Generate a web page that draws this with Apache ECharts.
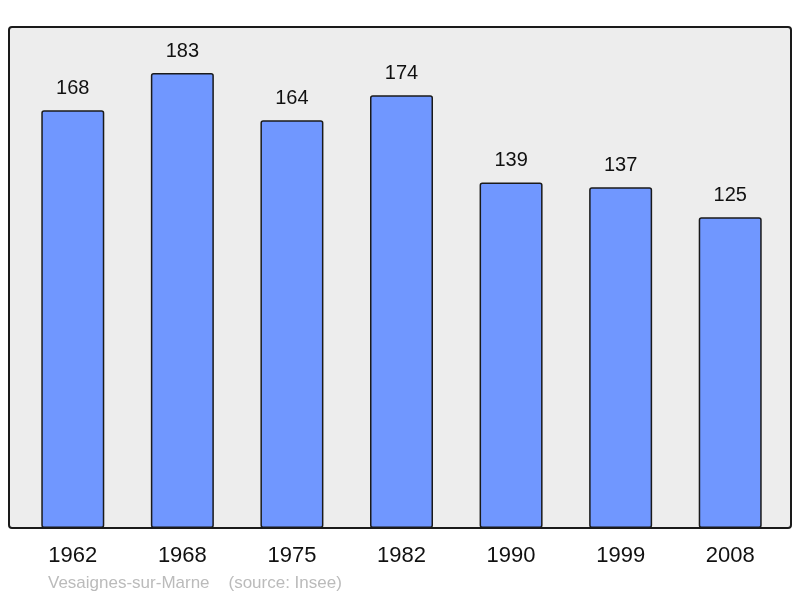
<!DOCTYPE html>
<html>
<head>
<meta charset="utf-8">
<script src="https://cdn.jsdelivr.net/npm/echarts@6/dist/echarts.min.js"></script>
<style>
  html, body { margin: 0; padding: 0; background: #fff; }
  #chart { width: 800px; height: 598px; }
</style>
</head>
<body>
<div id="chart"></div>
<script>
// data
var years = ['1962', '1968', '1975', '1982', '1990', '1999', '2008']
var population = [168, 183, 164, 174, 139, 137, 125]

var myChart = echarts.init(document.getElementById('chart'))
var font = '"Liberation Sans", Arial, sans-serif'

var option = {
  backgroundColor: '#ffffff',
  animation: false,
  graphic: [
    {
      type: 'rect',
      z: -10,
      shape: { x: 9, y: 27, width: 782, height: 501, r: 3 },
      style: { fill: '#ededed', stroke: '#1a1a1a', lineWidth: 2 }
    },
    {
      type: 'text',
      left: 48,
      top: 575,
      style: {
        text: 'Vesaignes-sur-Marne    (source: Insee)',
        fill: '#bbbbbb',
        font: '17px ' + font
      }
    }
  ],
  grid: { left: 18, right: 15, top: 27, bottom: 70 },
  xAxis: {
    type: 'category',
    data: years,
    axisLine: { show: false },
    axisTick: { show: false },
    axisLabel: {
      color: '#111',
      fontSize: 22,
      fontFamily: font,
      margin: 17
    }
  },
  yAxis: {
    type: 'value',
    min: 0,
    max: 201.5,
    show: false,
    splitLine: { show: false }
  },
  series: [
    {
      type: 'bar',
      data: population,
      barWidth: 63,
      itemStyle: {
        color: '#7097ff',
        borderColor: '#1a1a1a',
        borderWidth: 1.5,
        borderRadius: 2
      },
      label: {
        show: true,
        position: 'top',
        distance: 12,
        color: '#111',
        fontSize: 20,
        fontFamily: font
      }
    }
  ]
}
myChart.setOption(option)
</script>
</body>
</html>
